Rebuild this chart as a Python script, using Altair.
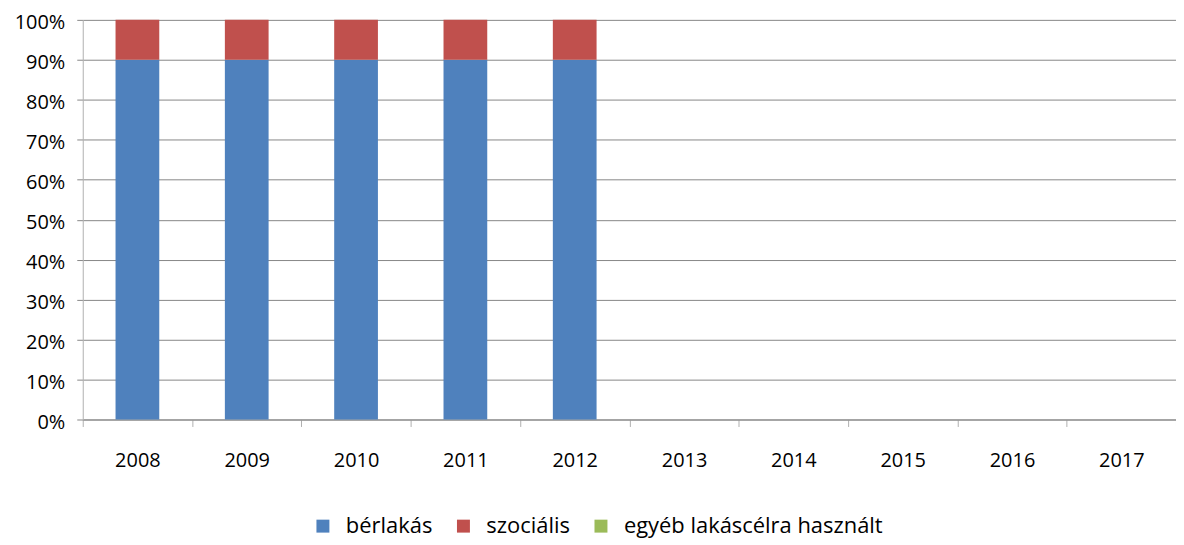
import altair as alt
import pandas as pd

years = ["2008", "2009", "2010", "2011", "2012", "2013", "2014", "2015", "2016", "2017"]
series = ["bérlakás", "szociális", "egyéb lakáscélra használt"]
berlakas = [90, 90, 90, 90, 90, 0, 0, 0, 0, 0]
szocialis = [10, 10, 10, 10, 10, 0, 0, 0, 0, 0]
egyeb = [0, 0, 0, 0, 0, 0, 0, 0, 0, 0]
colors = ["#4F81BD", "#C0504D", "#9BBB59"]

rows = []
for i, y in enumerate(years):
    for k, (s, vals) in enumerate(zip(series, [berlakas, szocialis, egyeb])):
        rows.append({"year": y, "series": s, "value": vals[i] / 100.0, "order": k})
df = pd.DataFrame(rows)

FONT = "Open Sans"
FS = 20

chart = alt.Chart(df).mark_bar(width=alt.RelativeBandSize(0.4)).encode(
    x=alt.X("year:N", sort=years, title=None,
            scale=alt.Scale(paddingInner=0, paddingOuter=0),
            axis=alt.Axis(labelAngle=0, tickBand="extent", grid=False,
                          ticks=True, tickSize=7, tickColor="#B0B0B0",
                          domainColor="#888888", labelPadding=24,
                          labelFontSize=FS, labelColor="#000000", labelFont=FONT)),
    y=alt.Y("value:Q", stack="zero", title=None,
            scale=alt.Scale(domain=[0, 1], nice=False),
            axis=alt.Axis(format=".0%", values=[i / 10 for i in range(11)],
                          grid=True, gridColor="#888888", tickColor="#888888",
                          tickSize=6, domainColor="#B0B0B0", labelPadding=12,
                          labelOffset=3,
                          labelFontSize=FS, labelColor="#000000", labelFont=FONT)),
    color=alt.Color("series:N", sort=series,
                    scale=alt.Scale(domain=series, range=colors),
                    legend=alt.Legend(title=None, orient="none", direction="horizontal",
                                      legendX=230, legendY=497,
                                      symbolType="square", symbolSize=169,
                                      symbolStrokeWidth=0, labelLimit=400,
                                      labelFontSize=22, labelFont=FONT,
                                      labelColor="#000000", columnPadding=20,
                                      labelOffset=12)),
    order=alt.Order("order:Q"),
).properties(
    width=1097, height=401,
    autosize=alt.AutoSizeParams(type="none"),
    padding={"left": 75, "top": 11, "right": 0, "bottom": 118},
).configure_view(stroke=None)

chart.save("out.html", embed_options={"renderer": "svg", "actions": False})
